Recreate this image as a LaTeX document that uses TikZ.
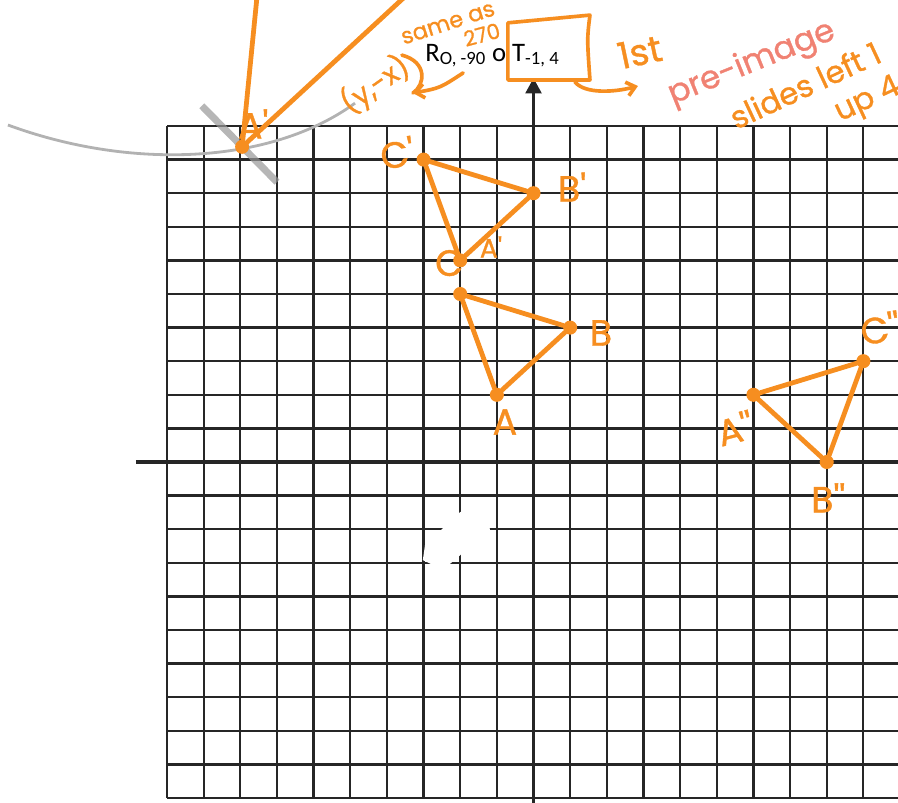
\documentclass[tikz,border=0pt]{standalone}
\usepackage{fontspec}
\usepackage{tikz}
\usetikzlibrary{arrows.meta}
\newfontfamily\handfont{Poppins}[FakeBold=1]
\newfontfamily\printfont{Carlito}
\definecolor{marker}{RGB}{246,142,32}
\definecolor{salmon}{RGB}{240,130,115}
\definecolor{pencil}{RGB}{178,178,178}

\begin{document}
\begin{tikzpicture}
	[x=0.91625cm, y=0.84cm,
	gridline/.style={line width=1.6pt, black!85},
	axisline/.style={line width=2.8pt, black!85},
	penline/.style={draw=marker, line width=3.4pt, line cap=round, line join=round},
	penthin/.style={draw=marker, line width=2.6pt, line cap=round, line join=round},
	dot/.style={circle, fill=marker, inner sep=0pt, minimum size=10pt},
	hand/.style={text=marker, inner sep=0pt, font=\handfont\fontsize{26}{28}\selectfont}]

	\useasboundingbox (-14.557,-10.119) rectangle (9.945,13.75);
	\clip (-14.557,-10.119) rectangle (9.945,13.75);

	% graph paper
	\foreach \i in {-10,...,10} {
		\draw[gridline] (\i,-10) -- (\i,10);
		\draw[gridline] (-10,\i) -- (10,\i);
	}
	\fill[white] (-3.02,-2.92) -- (-2.47,-3.21) -- (-1.19,-2.02) -- (-1.27,-1.28) -- (-2.0,-1.49) -- (-2.96,-2.47) -- cycle;
	\draw[axisline] (-10.85,0) -- (10.5,0);
	\draw[axisline, -{Triangle[length=11pt, width=11pt]}] (0,-10.5) -- (0,11.43);

	% compass work
	\draw[pencil, line width=2pt] (-14.34,10.03) .. controls (-11.01,8.69) and (-7.19,8.84) .. (-4.87,10.68);
	\draw[pencil!85!black, line width=5pt, opacity=0.7] (-9.05,10.6) -- (-7.0,8.33);

	\node[dot] (Aarc) at (-7.95,9.38) {};
	\coordinate (upend) at (-7.54,13.9);
	\coordinate (diagend) at (-3.10,14.26);
	\draw[penline] (Aarc) -- (upend);
	\draw[penline] (Aarc) -- (diagend);
	\node[hand] (labAarc) at (-7.65,10.06) {A'};

	% pre-image
	\node[dot] (A) at (-1,2) {};
	\node[dot] (B) at (1,4) {};
	\node[dot] (C) at (-2,5) {};
	\draw[penline] (A) -- (B) -- (C) -- (A);
	\node[hand] (labA) at (-0.78,1.19) {A};
	\node[hand] (labB) at (1.84,3.84) {B};
	\node[hand] (labC) at (-2.3,5.92) {C};

	% after translation
	\node[dot] (A1) at (-2,6) {};
	\node[dot] (B1) at (0,8) {};
	\node[dot] (C1) at (-3,9) {};
	\draw[penline] (A1) -- (B1) -- (C1) -- (A1);
	\node[hand, font=\handfont\fontsize{19}{20}\selectfont] (labA1) at (-1.16,6.4) {A'};
	\node[hand] (labB1) at (1.05,8.18) {B'};
	\node[hand, rotate=10] (labC1) at (-3.72,9.2) {C'};

	% after rotation
	\node[dot] (A2) at (6,2) {};
	\node[dot] (B2) at (8,0) {};
	\node[dot] (C2) at (9,3) {};
	\draw[penline] (A2) -- (B2) -- (C2) -- (A2);
	\node[hand, rotate=15] (labA2) at (5.5,1.01) {A''};
	\node[hand] (labB2) at (8.04,-1.07) {B''};
	\node[hand, rotate=10] (labC2) at (9.46,3.99) {C''};

	% rule
	\node[anchor=base west, inner sep=0pt, font=\printfont\fontsize{19}{21}\selectfont] (rule) at (-2.96,11.93)
		{R\textsubscript{O, -90} o T\textsubscript{-1, 4}};
	\coordinate (boxtl) at (-0.70,13.07);
	\coordinate (boxtr) at (1.54,13.30);
	\coordinate (boxbr) at (1.54,11.37);
	\coordinate (boxbl) at (-0.70,11.37);
	\draw[penthin] (boxtl) -- (boxtr) .. controls (1.46,12.6) .. (boxbr) -- (boxbl) -- cycle;

	% notes
	\node[hand, rotate=18, font=\handfont\fontsize{16}{17}\selectfont] (sameas) at (-2.33,13.04) {same as};
	\node[hand, rotate=15, font=\handfont\fontsize{15}{16}\selectfont] (deg) at (-1.41,12.72) {270};
	\node[hand, rotate=35, font=\handfont\fontsize{20}{22}\selectfont] (rotrule) at (-4.32,11.22) {(y,-x)};
	\coordinate (squig) at (-3.59,12.11);
	\coordinate (arrfrom) at (-1.92,11.58);
	\coordinate (arrtip) at (-3.29,10.98);
	\draw[penthin] (squig) .. controls (-2.88,11.9) and (-2.96,11.22) .. (arrtip);
	\draw[penthin, -{Straight Barb[length=6pt, width=10pt]}] (arrfrom) .. controls (-2.55,11.13) .. (arrtip);

	\coordinate (firstfrom) at (1.13,11.31);
	\coordinate (firsttip) at (2.85,11.19);
	\draw[penthin, -{Straight Barb[length=6pt, width=10pt]}] (firstfrom) .. controls (1.4,10.95) and (2.2,11.0) .. (firsttip);
	\node[hand, rotate=12] (first) at (2.90,12.20) {1st};
	\node[hand, rotate=22, text=salmon, font=\handfont\fontsize{23}{24}\selectfont] (preimage) at (5.96,11.85) {pre-image};
	\node[hand, rotate=25, font=\handfont\fontsize{22}{24}\selectfont] (slides) at (7.41,11.22) {slides left 1};
	\node[hand, rotate=25, font=\handfont\fontsize{22}{24}\selectfont] (up) at (9.13,10.75) {up 4};

\end{tikzpicture}
\end{document}
